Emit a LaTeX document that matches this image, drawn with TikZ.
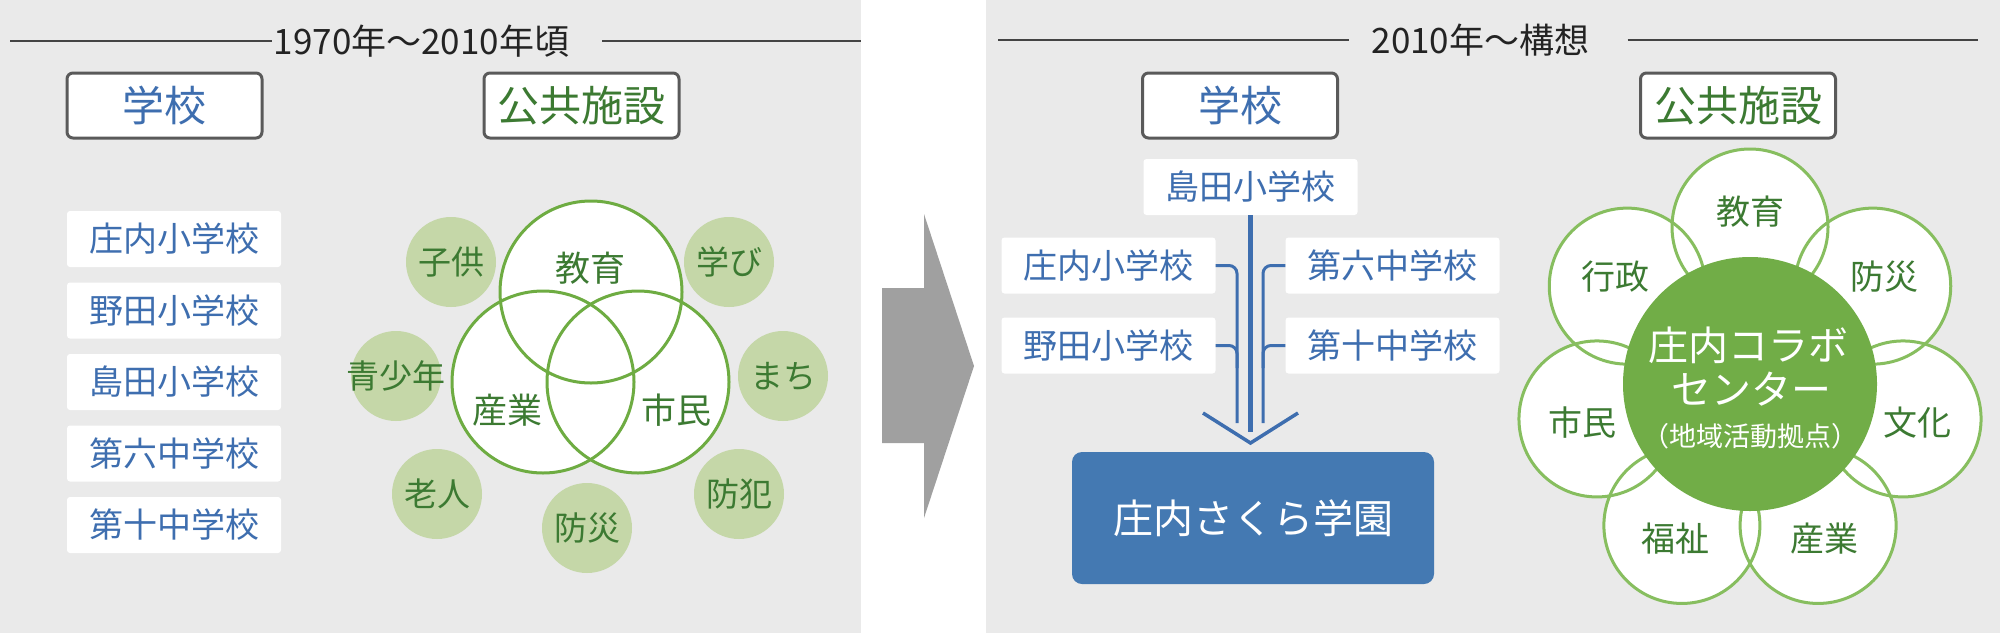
\documentclass[tikz,border=0pt]{standalone}
\usepackage{fontspec}
\setmainfont{Noto Sans CJK JP}
\usepackage{tikz}
\usetikzlibrary{positioning}
\tikzstyle{pixelGrid} = [x = 1pt, y = -1pt, every node/.style={inner sep=0}]
\definecolor{panelGray}{RGB}{234,234,234}
\definecolor{titleInk}{RGB}{35,35,35}
\definecolor{frameGray}{RGB}{90,90,90}
\definecolor{schoolBlue}{RGB}{62,110,175}
\definecolor{facilityGreen}{RGB}{60,122,50}
\definecolor{vennGreen}{RGB}{110,172,66}
\definecolor{softGreen}{RGB}{197,215,168}
\definecolor{arrowGray}{RGB}{160,160,160}
\definecolor{gakuenBlue}{RGB}{68,121,178}
\definecolor{hubGreen}{RGB}{113,173,71}
\definecolor{petalGreen}{RGB}{135,190,95}
\newcommand{\sizePx}[1]{\fontsize{#1}{#1}\selectfont}
\tikzstyle{titleText} = [color=titleInk, font=\sizePx{35}, inner sep=2pt]
\tikzstyle{titleLine} = [color=titleInk!85, line width=2pt]
\tikzstyle{headerStyle} = [draw=frameGray, line width=3pt, fill=white, rounded corners=6pt, minimum width=195pt, minimum height=65pt, font=\sizePx{42}]
\tikzstyle{schoolStyle} = [fill=white, rounded corners=3pt, minimum width=214pt, minimum height=56pt, text=schoolBlue, font=\sizePx{34}]
\tikzstyle{vennFill} = [circle, fill=white, minimum size=182pt]
\tikzstyle{vennRing} = [color=vennGreen, line width=3pt]
\tikzstyle{vennText} = [text=facilityGreen, font=\sizePx{35}]
\tikzstyle{bubbleStyle} = [circle, fill=softGreen, minimum size=90pt]
\tikzstyle{bubbleText} = [text=facilityGreen, font=\sizePx{33}]
\tikzstyle{mergeLine} = [color=schoolBlue, line width=3pt, rounded corners=8pt]
\tikzstyle{trunkLine} = [color=schoolBlue, line width=4.5pt]
\tikzstyle{gakuenStyle} = [fill=gakuenBlue, rounded corners=10pt, minimum width=362pt, minimum height=132pt, text=white, font=\sizePx{40}]
\tikzstyle{petalFill} = [circle, fill=white, minimum size=156pt]
\tikzstyle{petalRing} = [color=petalGreen, line width=3pt]
\tikzstyle{petalText} = [text=facilityGreen, font=\sizePx{34}]
\tikzstyle{hubStyle} = [circle, fill=hubGreen, minimum size=254pt]
\tikzstyle{hubText} = [text=white]
\newcommand{\headerBox}[4]{\node [headerStyle, text=#3] (#1) at (#2, 105.5) {#4};}
\begin{document}
\begin{tikzpicture}[pixelGrid]
  \useasboundingbox (0,0) rectangle (2000,633);
  \fill [white] (0,0) rectangle (2000,633);
  \fill [panelGray] (0,0) rectangle (861,633);
  \fill [panelGray] (986,0) rectangle (2000,633);

  % before
  \node [titleText] (titleOld) at (421.5,41) {1970年〜2010年頃};
  \coordinate (oldLineStart) at (10,41);
  \coordinate (oldLineEnd) at (861,41);
  \draw [titleLine] (oldLineStart) -- (titleOld.west);
  \draw [titleLine] ([xshift=31pt]titleOld.east) -- (oldLineEnd);

  \headerBox{schoolHeadOld}{164.5}{schoolBlue}{学校}
  \headerBox{facilityHeadOld}{581.5}{facilityGreen}{公共施設}

  \foreach \school [count=\i] in {庄内小学校,野田小学校,島田小学校,第六中学校,第十中学校} {
    \pgfmathsetmacro{\row}{239 + 71.5 * (\i - 1)}
    \node [schoolStyle] (schoolOld\i) at (174,\row) {\school};
  }

  \foreach \name/\x/\y/\word in {kids/451/262/子供,learn/729/262/学び,youth/396/376/青少年,town/783/376/まち,elder/437/494/老人,crime/739/494/防犯,disaster/587/528/防災} {
    \node [bubbleStyle] (\name) at (\x,\y) {};
    \node [bubbleText] (\name-text) at (\name) {\word};
  }

  \foreach \name/\x/\y in {vennEdu/591/292,vennInd/543/382,vennCit/638/382} {
    \node [vennFill] (\name) at (\x,\y) {};
  }
  \foreach \name in {vennEdu,vennInd,vennCit} {
    \draw [vennRing] (\name.center) circle (91);
  }
  \node [vennText] (eduText) at (590,268) {教育};
  \node [vennText] (indText) at (507,410) {産業};
  \node [vennText] (citText) at (676,410) {市民};

  % arrow
  \fill [arrowGray] (882,288) -- (924,288) -- (924,214) -- (974,366) -- (924,518) -- (924,443) -- (882,443) -- cycle;

  % after
  \node [titleText] (titleNew) at (1480.5,40) {2010年〜構想};
  \coordinate (newLineStart) at (998,40);
  \coordinate (newLineEnd) at (1978,40);
  \draw [titleLine] (newLineStart) -- ([xshift=-20pt]titleNew.west);
  \draw [titleLine] ([xshift=36pt]titleNew.east) -- (newLineEnd);

  \headerBox{schoolHeadNew}{1240}{schoolBlue}{学校}
  \headerBox{facilityHeadNew}{1738}{facilityGreen}{公共施設}

  \node [schoolStyle] (shimadaNew) at (1250.5,187) {島田小学校};
  \node [schoolStyle] (shonaiNew) at (1108.5,265.5) {庄内小学校};
  \node [schoolStyle] (nodaNew) at (1108.5,345.5) {野田小学校};
  \node [schoolStyle] (dairokuNew) at (1392.5,265.5) {第六中学校};
  \node [schoolStyle] (daijuNew) at (1392.5,345.5) {第十中学校};

  \coordinate (leftBus) at (1237,423);
  \coordinate (leftJoin) at (1237,368);
  \coordinate (rightBus) at (1263,423);
  \coordinate (rightJoin) at (1263,368);
  \coordinate (trunkEnd) at (1250.5,432);
  \draw [mergeLine] (shonaiNew.east) -| (leftBus);
  \draw [mergeLine] (nodaNew.east) -| (leftJoin);
  \draw [mergeLine] (dairokuNew.west) -| (rightBus);
  \draw [mergeLine] (daijuNew.west) -| (rightJoin);
  \draw [trunkLine] (shimadaNew.south) -- (trunkEnd);

  \coordinate (chevLeft) at (1203,413);
  \coordinate (chevTip) at (1250.5,443);
  \coordinate (chevRight) at (1298,413);
  \draw [mergeLine, line width=3.5pt, rounded corners=0pt] (chevLeft) -- (chevTip) -- (chevRight);

  \node [gakuenStyle] (gakuen) at (1253,518) {庄内さくら学園};

  \coordinate (hubCenter) at (1750,384);
  \foreach \i in {1,...,7} {
    \pgfmathsetmacro{\ang}{-90 + (\i - 1) * 360 / 7}
    \node [petalFill] (petal\i) at ([shift={(\ang:157)}]hubCenter) {};
  }
  \foreach \i in {1,...,7} {
    \draw [petalRing] (petal\i.center) circle (78);
  }
  \node [hubStyle] (hub) at (hubCenter) {};
  \foreach \word [count=\i] in {教育,防災,文化,産業,福祉,市民,行政} {
    \pgfmathsetmacro{\ang}{-90 + (\i - 1) * 360 / 7}
    \node [petalText] (petalText\i) at ([shift={(\ang:172)}]hubCenter) {\word};
  }
  \node [hubText, font=\sizePx{40}] (hubLineA) at (1748,345) {庄内コラボ};
  \node [hubText, font=\sizePx{40}] (hubLineB) at (1751,389) {センター};
  \node [hubText, font=\sizePx{27}] (hubLineC) at (1750,436) {（地域活動拠点）};
\end{tikzpicture}
\end{document}
